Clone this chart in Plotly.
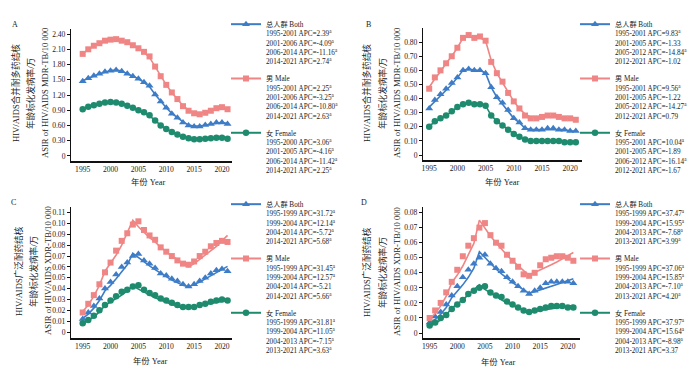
import plotly.graph_objects as go

years = list(range(1995, 2022))

# ---------- Panel A: MDR-TB ----------
a_both = [1.47, 1.53, 1.58, 1.62, 1.66, 1.68, 1.69, 1.67, 1.62, 1.57, 1.52, 1.45, 1.38, 1.21, 1.07,
          0.95, 0.83, 0.75, 0.66, 0.60, 0.58, 0.58, 0.61, 0.63, 0.66, 0.66, 0.63]
a_male = [2.01, 2.10, 2.17, 2.22, 2.27, 2.29, 2.30, 2.27, 2.24, 2.18, 2.12, 2.05, 1.96, 1.76, 1.57,
          1.40, 1.25, 1.12, 0.98, 0.89, 0.84, 0.82, 0.85, 0.89, 0.94, 0.96, 0.92]
a_female = [0.92, 0.97, 1.00, 1.03, 1.05, 1.06, 1.05, 1.03, 0.99, 0.95, 0.90, 0.86, 0.80, 0.70, 0.60,
            0.53, 0.47, 0.42, 0.38, 0.35, 0.33, 0.33, 0.34, 0.35, 0.36, 0.36, 0.34]
a_both_fit = [1.48, 1.53, 1.58, 1.62, 1.65, 1.68, 1.69, 1.67, 1.62, 1.57, 1.52, 1.45, 1.36, 1.21, 1.07,
              0.95, 0.84, 0.75, 0.67, 0.61, 0.59, 0.59, 0.61, 0.63, 0.65, 0.66, 0.64]
a_male_fit = [2.02, 2.10, 2.17, 2.22, 2.26, 2.29, 2.30, 2.27, 2.23, 2.18, 2.12, 2.04, 1.94, 1.76, 1.57,
              1.40, 1.25, 1.12, 0.99, 0.90, 0.85, 0.84, 0.86, 0.89, 0.93, 0.95, 0.93]
a_female_fit = [0.93, 0.97, 1.00, 1.03, 1.05, 1.06, 1.05, 1.02, 0.99, 0.95, 0.90, 0.85, 0.79, 0.70, 0.60,
                0.53, 0.47, 0.42, 0.38, 0.35, 0.34, 0.33, 0.34, 0.35, 0.35, 0.36, 0.35]

# ---------- Panel B: MDR-TB ----------
b_both = [0.33, 0.39, 0.43, 0.47, 0.51, 0.55, 0.60, 0.61, 0.60, 0.60, 0.58, 0.48, 0.41, 0.37, 0.32,
          0.26, 0.23, 0.19, 0.18, 0.18, 0.18, 0.19, 0.19, 0.18, 0.18, 0.17, 0.17]
b_male = [0.47, 0.55, 0.60, 0.65, 0.70, 0.76, 0.83, 0.85, 0.83, 0.84, 0.81, 0.66, 0.58, 0.52, 0.44,
          0.38, 0.33, 0.28, 0.26, 0.26, 0.27, 0.28, 0.28, 0.27, 0.26, 0.26, 0.25]
b_female = [0.20, 0.24, 0.26, 0.28, 0.31, 0.34, 0.36, 0.37, 0.36, 0.36, 0.35, 0.28, 0.24, 0.21, 0.18,
            0.15, 0.13, 0.11, 0.10, 0.10, 0.10, 0.10, 0.10, 0.10, 0.09, 0.09, 0.09]
b_both_fit = [0.34, 0.38, 0.42, 0.46, 0.50, 0.55, 0.60, 0.61, 0.60, 0.60, 0.58, 0.48, 0.41, 0.36, 0.31,
              0.26, 0.23, 0.19, 0.18, 0.18, 0.18, 0.18, 0.18, 0.18, 0.18, 0.17, 0.17]
b_male_fit = [0.48, 0.54, 0.59, 0.65, 0.70, 0.76, 0.83, 0.84, 0.83, 0.83, 0.81, 0.67, 0.58, 0.51, 0.44,
              0.38, 0.33, 0.29, 0.27, 0.27, 0.27, 0.27, 0.27, 0.27, 0.26, 0.26, 0.25]
b_female_fit = [0.21, 0.23, 0.26, 0.28, 0.31, 0.34, 0.36, 0.37, 0.36, 0.36, 0.35, 0.28, 0.24, 0.21, 0.18,
                0.15, 0.13, 0.11, 0.10, 0.10, 0.10, 0.10, 0.10, 0.10, 0.09, 0.09, 0.09]

# ---------- Panel C: XDR-TB ----------
c_both = [0.012, 0.018, 0.024, 0.031, 0.040, 0.046, 0.053, 0.060, 0.064, 0.070, 0.072, 0.066, 0.063, 0.059,
          0.054, 0.052, 0.049, 0.047, 0.044, 0.042, 0.044, 0.047, 0.050, 0.054, 0.057, 0.058, 0.056]
c_male = [0.018, 0.026, 0.034, 0.044, 0.055, 0.064, 0.075, 0.084, 0.091, 0.099, 0.102, 0.094, 0.089, 0.085,
          0.078, 0.074, 0.070, 0.066, 0.063, 0.062, 0.065, 0.070, 0.074, 0.079, 0.082, 0.084, 0.083]
c_female = [0.008, 0.011, 0.015, 0.020, 0.025, 0.029, 0.033, 0.037, 0.039, 0.042, 0.043, 0.039, 0.036, 0.034,
            0.031, 0.029, 0.027, 0.025, 0.023, 0.023, 0.023, 0.025, 0.026, 0.028, 0.029, 0.030, 0.029]
c_both_fit = [0.0125, 0.0165, 0.022, 0.029, 0.038, 0.043, 0.049, 0.055, 0.062, 0.0725, 0.0685, 0.0645, 0.061,
              0.0575, 0.054, 0.051, 0.048, 0.0455, 0.043, 0.0415, 0.0435, 0.046, 0.049, 0.052, 0.055, 0.058, 0.0605]
c_male_fit = [0.019, 0.025, 0.033, 0.043, 0.056, 0.063, 0.071, 0.080, 0.091, 0.103, 0.097, 0.092, 0.087, 0.083,
              0.078, 0.074, 0.070, 0.067, 0.063, 0.060, 0.063, 0.067, 0.071, 0.075, 0.079, 0.084, 0.089]
c_female_fit = [0.008, 0.0106, 0.014, 0.0185, 0.0245, 0.0275, 0.031, 0.034, 0.038, 0.0425, 0.0395, 0.0367,
                0.034, 0.0316, 0.0294, 0.0273, 0.0253, 0.0235, 0.0219, 0.0227, 0.0235, 0.0244, 0.0253,
                0.0262, 0.0271, 0.0281, 0.0291]

# ---------- Panel D: XDR-TB ----------
d_both = [0.007, 0.011, 0.014, 0.019, 0.025, 0.031, 0.037, 0.042, 0.046, 0.050, 0.052, 0.046, 0.043, 0.041,
          0.037, 0.034, 0.031, 0.028, 0.026, 0.028, 0.030, 0.033, 0.034, 0.034, 0.034, 0.034, 0.033]
d_male = [0.010, 0.015, 0.020, 0.027, 0.034, 0.042, 0.051, 0.058, 0.063, 0.070, 0.073, 0.065, 0.060, 0.058,
          0.052, 0.048, 0.044, 0.039, 0.038, 0.040, 0.045, 0.049, 0.050, 0.051, 0.051, 0.050, 0.048]
d_female = [0.005, 0.007, 0.010, 0.012, 0.016, 0.019, 0.022, 0.026, 0.028, 0.030, 0.031, 0.027, 0.025, 0.024,
            0.021, 0.019, 0.017, 0.015, 0.014, 0.015, 0.016, 0.017, 0.018, 0.018, 0.018, 0.017, 0.017]
d_both_fit = [0.0065, 0.009, 0.0125, 0.017, 0.0235, 0.0275, 0.032, 0.037, 0.043, 0.054, 0.050, 0.046, 0.0425,
              0.0393, 0.0363, 0.0335, 0.031, 0.0286, 0.0265, 0.0275, 0.0286, 0.0297, 0.031, 0.0322, 0.0335,
              0.0348, 0.036]
d_male_fit = [0.0095, 0.013, 0.018, 0.0245, 0.0335, 0.0385, 0.0445, 0.0515, 0.0595, 0.075, 0.0695, 0.0645,
              0.060, 0.0557, 0.0517, 0.048, 0.0446, 0.0414, 0.0385, 0.0401, 0.0418, 0.0435, 0.0453, 0.0472,
              0.0492, 0.0513, 0.0535]
d_female_fit = [0.0045, 0.0063, 0.0087, 0.012, 0.0165, 0.019, 0.022, 0.0255, 0.0285, 0.032, 0.029, 0.0265,
                0.0242, 0.022, 0.020, 0.0183, 0.0167, 0.0152, 0.0139, 0.0144, 0.0149, 0.0154, 0.016, 0.0166,
                0.0172, 0.0178, 0.0184]

# ---------- text ----------
group_names = ["总人群 Both", "男 Male", "女 Female"]
apc_a = [["1995-2001 APC=2.39<sup>a</sup>", "2001-2006 APC=-4.09<sup>a</sup>", "2006-2014 APC=-11.16<sup>a</sup>", "2014-2021 APC=2.74<sup>a</sup>"],
         ["1995-2001 APC=2.25<sup>a</sup>", "2001-2006 APC=-3.25<sup>a</sup>", "2006-2014 APC=-10.80<sup>a</sup>", "2014-2021 APC=2.63<sup>a</sup>"],
         ["1995-2000 APC=3.06<sup>a</sup>", "2001-2005 APC=-4.16<sup>a</sup>", "2006-2014 APC=-11.42<sup>a</sup>", "2014-2021 APC=2.25<sup>a</sup>"]]
apc_b = [["1995-2001 APC=9.83<sup>a</sup>", "2001-2005 APC=-1.33", "2005-2012 APC=-14.84<sup>a</sup>", "2012-2021 APC=-1.02"],
         ["1995-2001 APC=9.56<sup>a</sup>", "2001-2005 APC=-1.22", "2005-2012 APC=-14.27<sup>a</sup>", "2012-2021 APC=0.79"],
         ["1995-2001 APC=10.04<sup>a</sup>", "2001-2005 APC=-1.89", "2006-2012 APC=-16.14<sup>a</sup>", "2012-2021 APC=-1.67"]]
apc_c = [["1995-1999 APC=31.72<sup>a</sup>", "1999-2004 APC=12.14<sup>a</sup>", "2004-2014 APC=-5.72<sup>a</sup>", "2014-2021 APC=5.68<sup>a</sup>"],
         ["1995-1999 APC=31.45<sup>a</sup>", "1999-2004 APC=12.57<sup>a</sup>", "2004-2014 APC=-5.21", "2014-2021 APC=5.66<sup>a</sup>"],
         ["1995-1999 APC=31.81<sup>a</sup>", "1999-2004 APC=11.05<sup>a</sup>", "2004-2013 APC=-7.15<sup>a</sup>", "2013-2021 APC=3.63<sup>a</sup>"]]
apc_d = [["1995-1999 APC=37.47<sup>a</sup>", "1999-2004 APC=15.95<sup>a</sup>", "2004-2013 APC=-7.68<sup>a</sup>", "2013-2021 APC=3.99<sup>a</sup>"],
         ["1995-1999 APC=37.06<sup>a</sup>", "1999-2004 APC=15.85<sup>a</sup>", "2004-2013 APC=-7.10<sup>a</sup>", "2013-2021 APC=4.20<sup>a</sup>"],
         ["1995-1999 APC=37.97<sup>a</sup>", "1999-2004 APC=15.64<sup>a</sup>", "2004-2013 APC=-8.98<sup>a</sup>", "2013-2021 APC=3.37"]]

ytitle_mdr = ["HIV/AIDS合并耐多药结核", "年龄标化发病率/万", "ASIR of HIV/AIDS MDR-TB/10 000"]
ytitle_xdr = ["HIV/AIDS广泛耐药结核", "年龄标化发病率/万", "ASIR of HIV/AIDS XDR-TB/10 000"]
xtitle = "年份 Year"
panel_letters = ["A", "B", "C", "D"]

ticks_a = [0, 0.3, 0.6, 0.9, 1.2, 1.5, 1.8, 2.1, 2.4]
ticktext_a = ["0", "0.30", "0.60", "0.90", "1.20", "1.50", "1.80", "2.10", "2.40"]
ticks_b = [0, 0.1, 0.2, 0.3, 0.4, 0.5, 0.6, 0.7, 0.8]
ticktext_b = ["0", "0.10", "0.20", "0.30", "0.40", "0.50", "0.60", "0.70", "0.80"]
ticks_c = [0, 0.01, 0.02, 0.03, 0.04, 0.05, 0.06, 0.07, 0.08, 0.09, 0.10, 0.11]
ticktext_c = ["0", "0.01", "0.02", "0.03", "0.04", "0.05", "0.06", "0.07", "0.08", "0.09", "0.10", "0.11"]
ticks_d = [0, 0.01, 0.02, 0.03, 0.04, 0.05, 0.06, 0.07, 0.08]
ticktext_d = ["0", "0.01", "0.02", "0.03", "0.04", "0.05", "0.06", "0.07", "0.08"]
xticks = [1995, 2000, 2005, 2010, 2015, 2020]

# ---------- style ----------
W, H = 700, 371
FONT = "Liberation Serif, Times New Roman, Noto Sans CJK SC, serif"
TXT = "#222222"
colors = ["#3d7cc6", "#ef8584", "#1e8b6e"]
symbols = ["triangle-up", "square", "circle"]
msizes = [7, 6, 6.5]

def px(x):
    return x / W

def py(y):
    return 1 - y / H

panels = [
    dict(obs=[a_both, a_male, a_female], fit=[a_both_fit, a_male_fit, a_female_fit], apc=apc_a,
         ytitle=ytitle_mdr, ticks=ticks_a, ticktext=ticktext_a, yrange=[-0.1, 2.5],
         xdom=[71, 232], ydom=[29, 161], xrange=[1992.9, 2021.8],
         title_x=[15, 30, 45], title_y=93, letter=(15, 24), xt=(148, 182),
         leg=(226, 13)),
    dict(obs=[b_both, b_male, b_female], fit=[b_both_fit, b_male_fit, b_female_fit], apc=apc_b,
         ytitle=ytitle_mdr, ticks=ticks_b, ticktext=ticktext_b, yrange=[-0.035, 0.90],
         xdom=[423, 582], ydom=[28, 160], xrange=[1993.9, 2022.1],
         title_x=[366, 382, 397], title_y=93, letter=(368, 24), xt=(502, 182),
         leg=(575, 13)),
    dict(obs=[c_both, c_male, c_female], fit=[c_both_fit, c_male_fit, c_female_fit], apc=apc_c,
         ytitle=ytitle_xdr, ticks=ticks_c, ticktext=ticktext_c, yrange=[-0.0055, 0.1152],
         xdom=[71, 232], ydom=[207, 338], xrange=[1992.9, 2021.8],
         title_x=[18, 33, 48], title_y=271, letter=(13, 202), xt=(150, 361),
         leg=(226, 193)),
    dict(obs=[d_both, d_male, d_female], fit=[d_both_fit, d_male_fit, d_female_fit], apc=apc_d,
         ytitle=ytitle_xdr, ticks=ticks_d, ticktext=ticktext_d, yrange=[-0.0033, 0.0837],
         xdom=[423, 580], ydom=[207, 338], xrange=[1993.8, 2022.2],
         title_x=[366, 382, 397], title_y=272, letter=(364, 202), xt=(498, 362),
         leg=(575, 193)),
]

fig = go.Figure()
annotations = []
layout = {}

for i, p in enumerate(panels):
    n = "" if i == 0 else str(i + 1)
    xref, yref = "x" + n, "y" + n
    legname = "legend" + n
    for k in range(3):
        # fitted joinpoint line
        fig.add_trace(go.Scatter(x=years, y=p["fit"][k], mode="lines", xaxis=xref, yaxis=yref,
                                 line=dict(color=colors[k], width=1.6), showlegend=False,
                                 hoverinfo="skip"))
        # observed values
        fig.add_trace(go.Scatter(x=years, y=p["obs"][k], mode="markers", xaxis=xref, yaxis=yref,
                                 marker=dict(color=colors[k], symbol=symbols[k], size=msizes[k],
                                             line=dict(width=0)),
                                 showlegend=False))
    for k in range(3):
        label = group_names[k] + "<br>" + "<br>".join(p["apc"][k])
        fig.add_trace(go.Scatter(x=[None], y=[None], mode="lines+markers", xaxis=xref, yaxis=yref,
                                 line=dict(color=colors[k], width=2),
                                 marker=dict(color=colors[k], symbol=symbols[k], size=msizes[k]),
                                 name=label, legend=legname, legendgroup="g%d_%d" % (i, k),
                                 showlegend=True))
    layout["xaxis" + n] = dict(domain=[px(p["xdom"][0]), px(p["xdom"][1])], anchor=yref,
                               range=p["xrange"], tickvals=xticks, ticks="", showgrid=False,
                               zeroline=False, showline=True, linecolor="#111", linewidth=1.6,
                               tickfont=dict(family=FONT, size=7.6, color=TXT))
    layout["yaxis" + n] = dict(domain=[py(p["ydom"][1]), py(p["ydom"][0])], anchor=xref,
                               range=p["yrange"], tickvals=p["ticks"], ticktext=p["ticktext"],
                               ticks="outside", ticklen=3, tickwidth=1, tickcolor="#111",
                               showgrid=False, zeroline=False, showline=True, linecolor="#111",
                               linewidth=1.1, tickfont=dict(family=FONT, size=7.6, color=TXT))
    layout[legname] = dict(x=px(p["leg"][0]), y=py(p["leg"][1]), xanchor="left", yanchor="top",
                           valign="top", bgcolor="rgba(0,0,0,0)", borderwidth=0,
                           font=dict(family=FONT, size=7.2, color=TXT), tracegroupgap=4.5,
                           itemclick=False, itemdoubleclick=False)
    for j, t in enumerate(p["ytitle"]):
        annotations.append(dict(text=t, x=px(p["title_x"][j]), y=py(p["title_y"]), xref="paper",
                                yref="paper", textangle=-90, showarrow=False, xanchor="center",
                                yanchor="middle", font=dict(family=FONT, size=8.6, color=TXT)))
    annotations.append(dict(text=panel_letters[i], x=px(p["letter"][0]), y=py(p["letter"][1]),
                            xref="paper", yref="paper", showarrow=False, xanchor="center",
                            yanchor="middle", font=dict(family=FONT, size=8, color=TXT)))
    annotations.append(dict(text=xtitle, x=px(p["xt"][0]), y=py(p["xt"][1]), xref="paper",
                            yref="paper", showarrow=False, xanchor="center", yanchor="middle",
                            font=dict(family=FONT, size=8.4, color=TXT)))

fig.update_layout(width=W, height=H, margin=dict(l=0, r=0, t=0, b=0),
                  paper_bgcolor="white", plot_bgcolor="white", hovermode=False,
                  annotations=annotations, **layout)

fig.write_html("out.html", config={"displayModeBar": False},
               post_script="document.body.style.margin='0';document.body.style.padding='0';")
